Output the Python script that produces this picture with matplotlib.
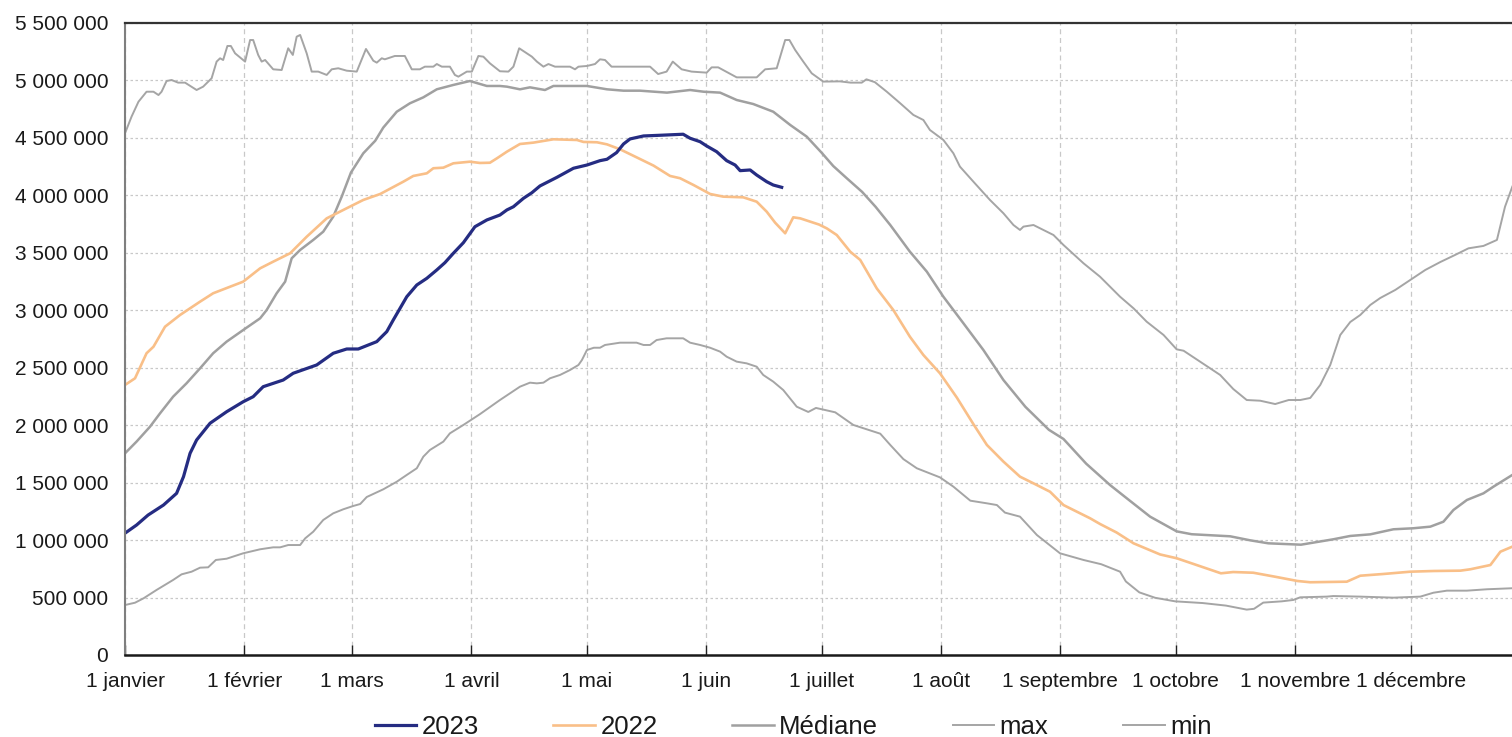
import matplotlib
matplotlib.use("Agg")
import matplotlib.pyplot as plt
import numpy as np
from matplotlib.ticker import FuncFormatter, FixedLocator, MultipleLocator

plt.rcParams['font.family'] = ['Liberation Sans', 'DejaVu Sans']

# ---------------- data (day of year, values in millions) ----------------
month_days = [0, 31, 59, 90, 120, 151, 181, 212, 243, 273, 304, 334]
month_labels = ["1 janvier", "1 février", "1 mars", "1 avril", "1 mai", "1 juin",
                "1 juillet", "1 août", "1 septembre", "1 octobre", "1 novembre", "1 décembre"]

days_2023 = [0, 3, 6, 10, 13.4, 15.2, 16.9, 18.6, 22.1, 26.4, 30.7, 33.3, 35.9, 41.1, 43.7, 49.8,
             54.1, 57.6, 60.6, 65.4, 68, 69.7, 73.2, 75.8, 78.4, 81, 83.1, 85.3, 87.9, 90.9, 94,
             97.4, 99.2, 100.9, 103.5, 105.7, 107.8, 112.2, 116.5, 120, 123.4, 125.2, 127.7, 129.5,
             131.2, 134.7, 139, 145, 146.8, 149.4, 151.1, 153.7, 156.3, 158.5, 159.8, 162.4, 164.1,
             166.7, 168.4, 170.6]
vals_2023 = [1.060, 1.131, 1.218, 1.305, 1.407, 1.552, 1.755, 1.871, 2.017, 2.117, 2.204, 2.248,
             2.335, 2.393, 2.452, 2.524, 2.626, 2.663, 2.663, 2.727, 2.814, 2.916, 3.118, 3.220,
             3.278, 3.351, 3.414, 3.496, 3.588, 3.727, 3.786, 3.829, 3.873, 3.901, 3.974, 4.023,
             4.082, 4.157, 4.236, 4.264, 4.302, 4.314, 4.372, 4.447, 4.491, 4.517, 4.523, 4.532,
             4.497, 4.467, 4.430, 4.380, 4.302, 4.264, 4.215, 4.221, 4.177, 4.119, 4.090, 4.070]

days_2022 = [0, 2.6, 5.6, 7.4, 10.4, 14.3, 19.5, 22.9, 27.3, 30.7, 35.1, 38.5, 42.9, 47.2, 52.4,
             57.6, 61.9, 66.3, 72.3, 74.9, 78.4, 80.1, 82.7, 85.3, 89.6, 92.2, 94.8, 96.6, 99.2,
             102.6, 106.1, 111.3, 117.4, 119.1, 122.6, 125.2, 128.6, 132.9, 137.3, 141.6, 144.2,
             147.7, 152, 155.4, 160.6, 164.1, 166.7, 168.9, 171.5, 173.6, 175.4, 180.3, 182.3,
             184.9, 188.4, 191, 195.3, 199.6, 203.9, 207.4, 211.7, 216.1, 220.4, 223.9, 228.2,
             232.5, 236, 240.3, 243.8, 250.7, 253.3, 257.6, 262, 268.9, 273.2, 277.6, 284.7,
             287.9, 293.1, 298.8, 304.6, 307.9, 317.4, 320.9, 326.9, 333.9, 339.9, 346.9, 349.5,
             354.7, 357.3, 360.4]
vals_2022 = [2.350, 2.408, 2.626, 2.683, 2.857, 2.959, 3.075, 3.148, 3.205, 3.249, 3.365, 3.423,
             3.496, 3.640, 3.800, 3.888, 3.960, 4.012, 4.119, 4.169, 4.192, 4.236, 4.241, 4.279,
             4.293, 4.282, 4.284, 4.322, 4.380, 4.447, 4.459, 4.488, 4.482, 4.465, 4.462, 4.444,
             4.401, 4.331, 4.259, 4.169, 4.149, 4.090, 4.012, 3.989, 3.983, 3.945, 3.858, 3.762,
             3.670, 3.809, 3.800, 3.746, 3.713, 3.655, 3.510, 3.438, 3.190, 3.002, 2.770, 2.611,
             2.452, 2.240, 2.009, 1.828, 1.683, 1.552, 1.494, 1.421, 1.305, 1.190, 1.140, 1.066,
             0.972, 0.875, 0.842, 0.792, 0.711, 0.722, 0.716, 0.681, 0.644, 0.633, 0.638, 0.690,
             0.705, 0.725, 0.731, 0.734, 0.746, 0.783, 0.899, 0.943]

days_med = [0, 3, 6.5, 9.1, 12.5, 16, 19.5, 22.9, 26.4, 30.7, 35.1, 36.8, 39.4, 41.6, 43.3, 45.5,
            48.9, 51.5, 54.1, 56.3, 58.7, 61.9, 65, 67.1, 70.6, 74, 77.5, 81, 85.3, 89.6, 94, 97.4,
            99.2, 102.6, 105.2, 109.1, 111.3, 120, 125.2, 129.5, 133.8, 140.8, 146.8, 150.3, 154.6,
            158.9, 163.2, 168.4, 172.8, 177.1, 181, 184, 187.5, 191.5, 195, 198.8, 203.9, 208.3,
            212.6, 217.8, 223, 228.2, 233.9, 240, 243.8, 249.7, 255.9, 260.8, 266.3, 273.2, 277.1,
            287.1, 292.3, 297, 305.5, 313.9, 318.3, 323.5, 329.5, 334.7, 339.1, 342.5, 345.1,
            348.6, 352.9, 355.5, 360.4]
vals_med = [1.755, 1.857, 1.987, 2.103, 2.248, 2.365, 2.495, 2.626, 2.727, 2.828, 2.930, 3.002,
            3.148, 3.249, 3.452, 3.525, 3.612, 3.684, 3.815, 3.989, 4.199, 4.366, 4.475, 4.590,
            4.728, 4.801, 4.853, 4.923, 4.961, 4.995, 4.952, 4.952, 4.946, 4.923, 4.940, 4.917,
            4.952, 4.952, 4.923, 4.911, 4.911, 4.894, 4.917, 4.902, 4.894, 4.830, 4.795, 4.728,
            4.613, 4.511, 4.370, 4.255, 4.149, 4.030, 3.900, 3.742, 3.510, 3.336, 3.118, 2.887,
            2.654, 2.393, 2.160, 1.960, 1.880, 1.665, 1.479, 1.349, 1.204, 1.076, 1.051, 1.033,
            0.998, 0.972, 0.960, 1.007, 1.036, 1.050, 1.094, 1.103, 1.117, 1.160, 1.262, 1.349,
            1.407, 1.465, 1.567]

days_max = [0, 1.7, 3.5, 5.6, 7.4, 8.7, 9.5, 10.8, 12.1, 13.8, 15.6, 18.6, 20.3, 22.5, 23.8, 24.7,
            25.5, 26.6, 27.5, 28.6, 31.2, 32.5, 33.3, 34.6, 35.5, 36.4, 38.5, 40.7, 42.4, 43.6,
            44.6, 45.5, 47.2, 48.5, 50.2, 52.4, 53.7, 55.4, 57.6, 60.2, 62.6, 64.5, 65.4, 66.7,
            67.5, 70.1, 72.7, 74.5, 76.6, 77.9, 80.1, 81, 82.3, 84.4, 85.7, 86.6, 88.8, 90.1, 91.8,
            93.1, 94.8, 97.4, 99.6, 100.9, 102.4, 105.7, 107, 108.7, 110, 111.7, 115.6, 116.9,
            117.8, 120, 122.1, 123.4, 124.7, 126.4, 136.4, 138.5, 140.7, 142.3, 144.6, 147.2,
            151.1, 152.4, 154.1, 158.9, 164.1, 166.3, 169.3, 171.5, 172.6, 174.1, 176.2, 178.4,
            181.4, 185.7, 188.5, 191.4, 192.6, 194.8, 197.9, 201.4, 204.8, 207.4, 209.1, 212.6,
            215.2, 216.9, 220.4, 224.7, 228.2, 230.8, 232.5, 233.4, 236, 241.2, 243.8, 249, 253.3,
            258.5, 262, 265.4, 269.8, 273.2, 275, 279.3, 284.5, 287.9, 291.4, 294.9, 298.8, 302.3,
            305.3, 307.9, 310.5, 313.1, 315.7, 318.3, 320.9, 323.5, 326.1, 330, 333.9, 337.8,
            341.7, 345.5, 349, 352.9, 356.4, 358.5, 360.4]
vals_max = [4.540, 4.685, 4.815, 4.902, 4.902, 4.873, 4.902, 4.995, 5.004, 4.981, 4.981, 4.917,
            4.946, 5.019, 5.164, 5.193, 5.178, 5.300, 5.300, 5.236, 5.164, 5.352, 5.352, 5.222,
            5.164, 5.178, 5.097, 5.091, 5.280, 5.222, 5.381, 5.396, 5.236, 5.077, 5.077, 5.048,
            5.097, 5.106, 5.085, 5.077, 5.274, 5.172, 5.155, 5.193, 5.184, 5.213, 5.213, 5.097,
            5.097, 5.120, 5.120, 5.143, 5.120, 5.120, 5.048, 5.033, 5.077, 5.077, 5.213, 5.207,
            5.149, 5.080, 5.077, 5.120, 5.280, 5.207, 5.164, 5.120, 5.143, 5.120, 5.120, 5.097,
            5.120, 5.126, 5.143, 5.184, 5.178, 5.120, 5.120, 5.056, 5.077, 5.164, 5.097, 5.077,
            5.068, 5.114, 5.114, 5.027, 5.027, 5.097, 5.106, 5.352, 5.352, 5.265, 5.164, 5.062,
            4.990, 4.992, 4.981, 4.981, 5.010, 4.985, 4.902, 4.801, 4.700, 4.656, 4.569, 4.482,
            4.366, 4.250, 4.119, 3.960, 3.844, 3.742, 3.699, 3.728, 3.742, 3.655, 3.568, 3.409,
            3.292, 3.118, 3.017, 2.901, 2.785, 2.660, 2.648, 2.553, 2.437, 2.315, 2.219, 2.213,
            2.184, 2.219, 2.219, 2.237, 2.350, 2.524, 2.785, 2.898, 2.959, 3.046, 3.107, 3.177,
            3.264, 3.351, 3.420, 3.481, 3.539, 3.560, 3.612, 3.901, 4.076]

days_min = [0, 2.6, 4.8, 8.2, 12.5, 14.7, 17.3, 19.5, 21.6, 23.6, 26.4, 30.7, 35.1, 38.5, 40.3,
            42.4, 45.5, 46.8, 48.9, 51.5, 54.1, 56.7, 59.3, 61.1, 62.8, 67.1, 70.6, 73.2, 75.8,
            77.5, 79.2, 82.7, 84.4, 87.9, 92.2, 97.4, 102.6, 105.2, 107, 108.7, 110.4, 113, 115.6,
            117.8, 118.7, 120, 121.8, 123.4, 124.7, 128.6, 132.9, 134.7, 136.4, 138.1, 140.7, 145,
            146.8, 149.4, 152, 154.6, 156.3, 158.9, 161.5, 164.1, 165.8, 168.4, 171, 174.5, 177.5,
            179.5, 184.5, 189.2, 196.2, 198.8, 202.2, 205.7, 211.7, 215.2, 219.6, 223.9, 226.5,
            228.6, 232.5, 236.9, 242.9, 249, 253.6, 258.5, 260, 263.5, 267.6, 272.8, 280, 286,
            291.4, 293.3, 295.7, 300.5, 303.5, 305.3, 312.2, 313.9, 320.9, 329.5, 336.5, 339.9,
            343.4, 348.6, 353.8, 360.4]
vals_min = [0.435, 0.455, 0.493, 0.566, 0.653, 0.702, 0.725, 0.760, 0.763, 0.827, 0.838, 0.885,
            0.920, 0.937, 0.937, 0.957, 0.957, 1.015, 1.073, 1.175, 1.233, 1.268, 1.297, 1.314,
            1.375, 1.442, 1.508, 1.567, 1.625, 1.726, 1.784, 1.857, 1.929, 2.002, 2.096, 2.219,
            2.335, 2.370, 2.364, 2.370, 2.408, 2.437, 2.480, 2.524, 2.567, 2.654, 2.674, 2.674,
            2.698, 2.718, 2.718, 2.698, 2.698, 2.741, 2.756, 2.756, 2.718, 2.698, 2.674, 2.640,
            2.596, 2.553, 2.538, 2.509, 2.437, 2.379, 2.306, 2.161, 2.115, 2.150, 2.112, 2.002,
            1.926, 1.828, 1.705, 1.625, 1.546, 1.465, 1.343, 1.320, 1.305, 1.239, 1.204, 1.044,
            0.885, 0.827, 0.790, 0.725, 0.640, 0.545, 0.498, 0.467, 0.452, 0.430, 0.395, 0.402,
            0.456, 0.467, 0.479, 0.502, 0.508, 0.513, 0.508, 0.499, 0.508, 0.542, 0.560, 0.560,
            0.572, 0.581]

MILLION = 1e6

# ---------------- figure ----------------
W, H = 1512, 737
fig = plt.figure(figsize=(W / 100, H / 100), dpi=100)
ax = fig.add_axes([125 / W, 1 - 655 / H, 1 - 125 / W, (655 - 23) / H])

gray = '#a5a5a5'
l_min, = ax.plot(days_min, np.array(vals_min) * MILLION, color=gray, lw=1.4, label='min')
l_max, = ax.plot(days_max, np.array(vals_max) * MILLION, color=gray, lw=1.4, label='max')
l_med, = ax.plot(days_med, np.array(vals_med) * MILLION, color='#a0a0a0', lw=1.8, label='Médiane')
l_22, = ax.plot(days_2022, np.array(vals_2022) * MILLION, color='#f9bf88', lw=1.9, label='2022')
l_23, = ax.plot(days_2023, np.array(vals_2023) * MILLION, color='#252c82', lw=2.3, label='2023')

ax.set_xlim(0, (W - 125) / ((1410.7 - 125) / 334))
ax.set_ylim(0, 5.5e6)

ax.xaxis.set_major_locator(FixedLocator(month_days))
ax.set_xticklabels(month_labels)
ax.yaxis.set_major_locator(MultipleLocator(500000))
ax.yaxis.set_major_formatter(FuncFormatter(lambda v, p: f"{v:,.0f}".replace(",", " ")))

ax.tick_params(axis='x', direction='in', length=7, width=1, color='#222222',
               labelsize=15, pad=12.5, labelcolor='#1a1a1a')
ax.tick_params(axis='y', length=0, labelsize=15, pad=12, labelcolor='#1a1a1a')

ax.set_axisbelow(True)
ax.yaxis.grid(True, linestyle=(0, (2, 2)), color='#c8c8c8', lw=0.9)
ax.xaxis.grid(True, linestyle=(0, (4, 3)), color='#c8c8c8', lw=0.9)

ax.spines['right'].set_visible(False)
ax.spines['top'].set_color('#333333')
ax.spines['top'].set_linewidth(1.6)
ax.spines['bottom'].set_color('#1a1a1a')
ax.spines['bottom'].set_linewidth(1.8)
ax.spines['left'].set_color('#7f7f7f')
ax.spines['left'].set_linewidth(1.5)

fig.legend([l_23, l_22, l_med, l_max, l_min], ['2023', '2022', 'Médiane', 'max', 'min'],
           loc='center', bbox_to_anchor=(793 / W, 1 - 727 / H), ncol=5, frameon=False,
           fontsize=18.5, handlelength=1.63, handletextpad=0.2, columnspacing=2.9,
           labelcolor='#1a1a1a')

fig.savefig('out.png', dpi=100)
